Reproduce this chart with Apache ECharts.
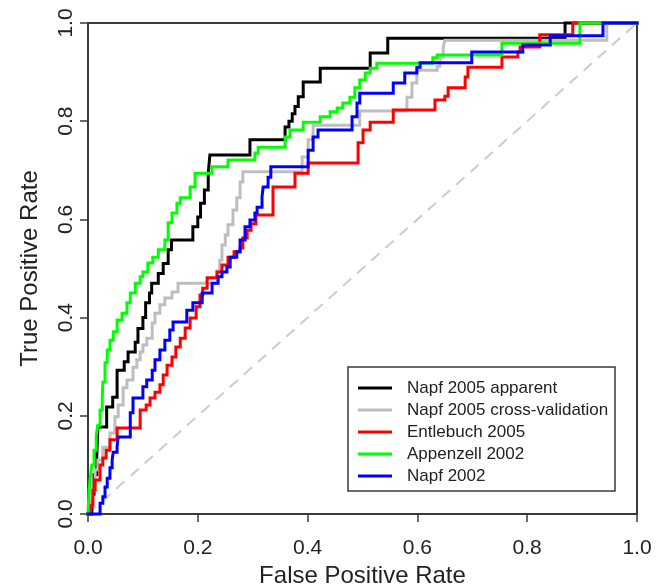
<!DOCTYPE html>
<html>
<head>
<meta charset="utf-8">
<script src="https://cdn.jsdelivr.net/npm/echarts@6/dist/echarts.min.js"></script>
<style>
html,body{margin:0;padding:0;background:#fff;}
#chart{width:664px;height:586px;}
</style>
</head>
<body>
<div id="chart"></div>
<script>
// ---- data (fpr = False Positive Rate, tpr = True Positive Rate), staircase corner points ----
var seriesNames = ["Napf 2005 apparent", "Napf 2005 cross-validation", "Entlebuch 2005", "Appenzell 2002", "Napf 2002"];
var seriesColors = ["#000000", "#bebebe", "#ff0000", "#00ff00", "#0000ff"];

var napf2005App_fpr = [0, 0.007, 0.011, 0.016, 0.018, 0.034, 0.045, 0.053, 0.066, 0.073, 0.086, 0.091, 0.1, 0.105, 0.112, 0.116, 0.128, 0.137, 0.146, 0.152, 0.191, 0.2, 0.205, 0.212, 0.219, 0.222, 0.295, 0.359, 0.366, 0.372, 0.377, 0.383, 0.392, 0.423, 0.514, 0.546, 0.869, 1];
var napf2005App_tpr = [0, 0.04, 0.08, 0.12, 0.177, 0.218, 0.238, 0.293, 0.31, 0.33, 0.35, 0.378, 0.4, 0.43, 0.45, 0.47, 0.49, 0.51, 0.538, 0.558, 0.585, 0.605, 0.633, 0.66, 0.694, 0.731, 0.762, 0.788, 0.8, 0.815, 0.83, 0.85, 0.88, 0.908, 0.939, 0.969, 1, 1];

var napf2005CV_fpr = [0, 0.004, 0.007, 0.013, 0.018, 0.027, 0.04, 0.049, 0.055, 0.064, 0.071, 0.082, 0.089, 0.095, 0.1, 0.107, 0.117, 0.122, 0.131, 0.14, 0.153, 0.164, 0.235, 0.24, 0.244, 0.25, 0.255, 0.264, 0.271, 0.277, 0.282, 0.39, 0.401, 0.41, 0.495, 0.581, 0.59, 0.599, 0.636, 0.641, 0.647, 0.65, 0.945, 1];
var napf2005CV_tpr = [0, 0.029, 0.049, 0.09, 0.11, 0.136, 0.165, 0.198, 0.222, 0.257, 0.273, 0.299, 0.314, 0.33, 0.344, 0.358, 0.389, 0.409, 0.426, 0.44, 0.452, 0.47, 0.495, 0.517, 0.548, 0.568, 0.589, 0.619, 0.644, 0.676, 0.697, 0.727, 0.762, 0.792, 0.821, 0.849, 0.878, 0.904, 0.912, 0.931, 0.951, 0.965, 1, 1];

var entlebuch2005_fpr = [0, 0.004, 0.009, 0.013, 0.022, 0.027, 0.033, 0.04, 0.053, 0.095, 0.106, 0.113, 0.122, 0.131, 0.137, 0.144, 0.153, 0.16, 0.168, 0.177, 0.186, 0.197, 0.204, 0.209, 0.217, 0.235, 0.244, 0.255, 0.266, 0.277, 0.282, 0.29, 0.297, 0.306, 0.337, 0.377, 0.401, 0.492, 0.501, 0.514, 0.556, 0.632, 0.65, 0.656, 0.687, 0.692, 0.754, 0.783, 0.787, 0.823, 0.883, 1];
var entlebuch2005_tpr = [0, 0.018, 0.049, 0.069, 0.1, 0.114, 0.13, 0.151, 0.175, 0.212, 0.222, 0.236, 0.248, 0.263, 0.283, 0.303, 0.32, 0.34, 0.358, 0.379, 0.399, 0.422, 0.446, 0.46, 0.481, 0.493, 0.507, 0.523, 0.534, 0.542, 0.562, 0.578, 0.591, 0.609, 0.666, 0.694, 0.715, 0.756, 0.782, 0.798, 0.823, 0.843, 0.851, 0.868, 0.89, 0.91, 0.931, 0.941, 0.951, 0.976, 1, 1];

var appenzell2002_fpr = [0, 0.002, 0.004, 0.007, 0.011, 0.015, 0.018, 0.022, 0.026, 0.027, 0.031, 0.035, 0.04, 0.046, 0.053, 0.062, 0.071, 0.077, 0.086, 0.095, 0.1, 0.109, 0.118, 0.128, 0.14, 0.146, 0.153, 0.162, 0.168, 0.186, 0.195, 0.226, 0.255, 0.304, 0.31, 0.359, 0.368, 0.392, 0.423, 0.441, 0.454, 0.464, 0.477, 0.486, 0.495, 0.505, 0.514, 0.526, 0.628, 0.636, 0.754, 0.896, 1];
var appenzell2002_tpr = [0, 0.049, 0.073, 0.1, 0.13, 0.161, 0.181, 0.212, 0.238, 0.269, 0.308, 0.334, 0.354, 0.371, 0.395, 0.409, 0.43, 0.45, 0.47, 0.483, 0.493, 0.511, 0.523, 0.538, 0.558, 0.593, 0.613, 0.633, 0.644, 0.666, 0.694, 0.707, 0.721, 0.735, 0.747, 0.768, 0.782, 0.798, 0.809, 0.819, 0.827, 0.837, 0.849, 0.868, 0.884, 0.898, 0.908, 0.918, 0.929, 0.935, 0.959, 1, 1];

var napf2002_fpr = [0, 0.022, 0.027, 0.031, 0.035, 0.04, 0.044, 0.046, 0.053, 0.055, 0.077, 0.082, 0.1, 0.107, 0.117, 0.122, 0.131, 0.14, 0.149, 0.155, 0.18, 0.191, 0.208, 0.226, 0.237, 0.244, 0.253, 0.259, 0.271, 0.277, 0.286, 0.295, 0.304, 0.308, 0.317, 0.319, 0.328, 0.333, 0.401, 0.41, 0.419, 0.481, 0.49, 0.495, 0.556, 0.577, 0.599, 0.605, 0.699, 0.792, 0.842, 0.938, 1];
var napf2002_tpr = [0, 0.022, 0.035, 0.055, 0.073, 0.094, 0.11, 0.126, 0.138, 0.157, 0.206, 0.236, 0.259, 0.273, 0.293, 0.314, 0.334, 0.354, 0.375, 0.391, 0.415, 0.43, 0.45, 0.47, 0.483, 0.493, 0.503, 0.523, 0.534, 0.558, 0.585, 0.599, 0.613, 0.625, 0.646, 0.666, 0.686, 0.707, 0.741, 0.768, 0.782, 0.809, 0.837, 0.857, 0.878, 0.898, 0.91, 0.919, 0.941, 0.955, 0.974, 1, 1];

var diagonal_fpr = [0, 1];
var diagonal_tpr = [0, 1];

var xTickLabels = ["0.0", "0.2", "0.4", "0.6", "0.8", "1.0"];
var yTickLabels = ["0.0", "0.2", "0.4", "0.6", "0.8", "1.0"];
var xTitle = "False Positive Rate";
var yTitle = "True Positive Rate";

// ---- chart ----
function pairs(xs, ys) { return xs.map(function (x, i) { return [x, ys[i]]; }); }
var allFpr = [napf2005App_fpr, napf2005CV_fpr, entlebuch2005_fpr, appenzell2002_fpr, napf2002_fpr];
var allTpr = [napf2005App_tpr, napf2005CV_tpr, entlebuch2005_tpr, appenzell2002_tpr, napf2002_tpr];

var FONT = '"Liberation Sans", Arial, Helvetica, sans-serif';
var chart = echarts.init(document.getElementById('chart'), null, { renderer: 'canvas' });

var series = [{
  type: 'line', name: 'diag', data: pairs(diagonal_fpr, diagonal_tpr), showSymbol: false, symbol: 'none',
  lineStyle: { color: '#cccccc', width: 2, type: [11, 8] }, silent: true, z: 1, clip: false
}];
seriesNames.forEach(function (n, i) {
  series.push({
    type: 'line', name: n, data: pairs(allFpr[i], allTpr[i]), step: 'end',
    symbol: 'none', showSymbol: false, clip: false, z: 3 + i,
    lineStyle: { color: seriesColors[i], width: 3, cap: 'square', join: 'miter' },
    itemStyle: { color: seriesColors[i] }
  });
});

chart.setOption({
  animation: false,
  backgroundColor: '#ffffff',
  textStyle: { fontFamily: FONT },
  grid: { left: 88, right: 27, top: 23, bottom: 72, show: true, borderColor: '#3a3a3a', borderWidth: 2, backgroundColor: 'transparent', containLabel: false, outerBoundsMode: 'none' },
  xAxis: {
    type: 'value', min: 0, max: 1, interval: 0.2,
    name: xTitle, nameLocation: 'middle', nameGap: 50,
    nameTextStyle: { fontSize: 24, color: '#222', fontFamily: FONT },
    axisLine: { show: true, lineStyle: { color: '#3a3a3a', width: 2 } },
    axisTick: { show: true, inside: false, length: 8, lineStyle: { color: '#3a3a3a', width: 1.5 } },
    axisLabel: { fontSize: 21, color: '#222', margin: 24, fontFamily: FONT,
      formatter: function (v) { return xTickLabels[Math.round(v / 0.2)]; } },
    splitLine: { show: false }
  },
  yAxis: {
    type: 'value', min: 0, max: 1, interval: 0.2,
    name: yTitle, nameLocation: 'middle', nameGap: 46, nameRotate: 90,
    nameTextStyle: { fontSize: 24, color: '#222', fontFamily: FONT },
    axisLine: { show: true, lineStyle: { color: '#3a3a3a', width: 2 } },
    axisTick: { show: true, inside: false, length: 8, lineStyle: { color: '#3a3a3a', width: 1.5 } },
    axisLabel: { fontSize: 21, color: '#222', margin: 11, rotate: 90, fontFamily: FONT,
      formatter: function (v) { return yTickLabels[Math.round(v / 0.2)]; } },
    splitLine: { show: false }
  },
  legend: {
    data: seriesNames, orient: 'vertical', left: 358, top: 377, padding: 0, itemGap: 0,
    icon: 'rect', itemWidth: 34, itemHeight: 3, selectedMode: false,
    textStyle: { fontSize: 17, lineHeight: 22, color: '#222', fontFamily: FONT, padding: [0, 0, 0, 10] },
    z: 20
  },
  graphic: [{
    type: 'rect', shape: { x: 348, y: 367, width: 267, height: 124 },
    style: { fill: '#ffffff', stroke: '#3a3a3a', lineWidth: 1.5 }, z: 10, silent: true
  }],
  series: series
});
</script>
</body>
</html>
